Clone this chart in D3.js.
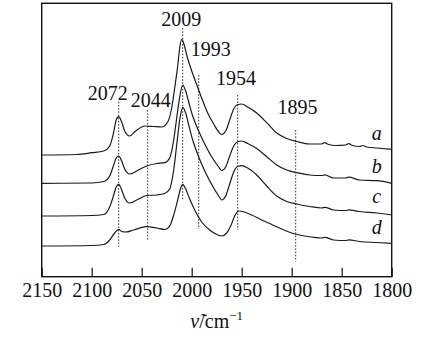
<!DOCTYPE html>
<html><head><meta charset="utf-8">
<script src="https://cdn.jsdelivr.net/npm/d3@7"></script>
<style>body{margin:0;background:#fff}svg{display:block}</style>
</head><body><svg id="c" width="443" height="349"></svg>
<script>
const xTicks = [2150, 2100, 2050, 2000, 1950, 1900, 1850, 1800];
const seriesNames = ["a", "b", "c", "d"];
const seriesA = [[2150,1.217],[2115,1.222],[2100,1.24],[2088,1.257],[2082,1.307],[2078,1.447],[2075.5,1.567],[2073,1.60],[2070,1.547],[2067,1.457],[2062,1.407],[2056,1.457],[2047,1.507],[2038,1.502],[2030,1.497],[2024,1.547],[2020,1.687],[2017,1.887],[2014,2.107],[2012,2.287],[2010,2.374],[2007.5,2.317],[2005,2.217],[2001,2.087],[1996,1.947],[1990,1.787],[1984,1.637],[1978,1.527],[1973,1.447],[1970,1.422],[1966,1.457],[1962,1.567],[1958,1.677],[1954,1.722],[1950,1.727],[1944,1.697],[1935,1.637],[1925,1.54],[1915,1.437],[1905,1.382],[1895,1.352],[1882,1.327],[1870,1.327],[1867,1.34],[1863,1.322],[1856,1.312],[1846,1.317],[1843,1.33],[1839,1.312],[1832,1.302],[1829,1.312],[1825,1.297],[1815,1.287],[1800,1.274]];
const seriesB = [[2150,0.934],[2100,0.937],[2088,0.952],[2082,1.007],[2078,1.117],[2075.5,1.187],[2073,1.207],[2070,1.157],[2067,1.077],[2062,1.027],[2055,1.057],[2045,1.107],[2035,1.132],[2027,1.14],[2022,1.187],[2018,1.367],[2015,1.587],[2012,1.797],[2009,1.917],[2006,1.857],[2003,1.747],[1999,1.607],[1993,1.457],[1986,1.307],[1978,1.167],[1973,1.097],[1970,1.062],[1966,1.097],[1962,1.207],[1958,1.307],[1954,1.35],[1950,1.357],[1944,1.332],[1935,1.282],[1925,1.20],[1915,1.117],[1905,1.067],[1895,1.04],[1882,1.017],[1870,1.012],[1867,1.018],[1858,0.987],[1846,0.987],[1843,0.995],[1832,0.967],[1815,0.96],[1800,0.934]];
const seriesC = [[2150,0.607],[2100,0.612],[2088,0.622],[2082,0.697],[2078,0.817],[2075.5,0.897],[2073,0.924],[2070,0.867],[2067,0.787],[2062,0.737],[2055,0.767],[2045,0.812],[2035,0.817],[2027,0.832],[2022,0.877],[2018,1.067],[2015,1.317],[2012,1.567],[2009,1.694],[2006,1.637],[2003,1.517],[1999,1.367],[1993,1.197],[1986,1.037],[1978,0.887],[1973,0.807],[1970,0.767],[1966,0.807],[1962,0.927],[1958,1.047],[1954,1.102],[1950,1.11],[1944,1.087],[1935,1.017],[1925,0.907],[1915,0.807],[1905,0.752],[1895,0.727],[1882,0.702],[1870,0.687],[1867,0.694],[1858,0.667],[1846,0.662],[1843,0.668],[1832,0.652],[1815,0.637],[1800,0.617]];
const seriesD = [[2150,0.307],[2100,0.312],[2088,0.322],[2082,0.367],[2077,0.437],[2073,0.474],[2070,0.452],[2066,0.447],[2058,0.467],[2045,0.50],[2035,0.487],[2027,0.472],[2022,0.507],[2018,0.617],[2014,0.767],[2011,0.887],[2009,0.924],[2006,0.877],[2002,0.777],[1996,0.647],[1990,0.547],[1982,0.467],[1976,0.427],[1970,0.407],[1965,0.437],[1961,0.507],[1957,0.607],[1953,0.657],[1949,0.652],[1940,0.617],[1930,0.567],[1920,0.522],[1910,0.477],[1900,0.437],[1890,0.412],[1880,0.397],[1870,0.387],[1867,0.394],[1858,0.367],[1846,0.362],[1843,0.368],[1832,0.352],[1815,0.342],[1800,0.334]];
const peakLabels = ["2072", "2044", "2009", "1993", "1954", "1895"];
const peakLinePos = [2073, 2044, 2009, 1993, 1954, 1896];
const peakLineTop = [1.75, 1.667, 2.487, 2.017, 1.817, 1.467];
const peakLineBottom = [0.30, 0.367, 0.767, 0.477, 0.467, 0.15];
const peakLabelPos = [2083.9, 2040.9, 2010.4, 1980.9, 1955.7, 1894.2];
const peakLabelBase = [1.767, 1.70, 2.507, 2.207, 1.917, 1.624];
const seriesLabelPos = [1815, 1815, 1815, 1815];
const seriesLabelBase = [1.37, 1.034, 0.74, 0.427];

const FONT = "'Liberation Serif'";
const svg = d3.select("#c");
const L = 41.7, R = 391.7, T = 3.3, B = 276.7;
const x = d3.scaleLinear().domain([2150, 1800]).range([L, R]);
const y = d3.scaleLinear().domain([0, 2.734]).range([B, T]);

const axis = d3.axisBottom(x).tickValues(xTicks).tickSize(-9).tickPadding(6).tickFormat(d3.format("d"));
const gx = svg.append("g").attr("transform", `translate(0,${B})`).call(axis);
gx.select(".domain").remove();
gx.selectAll(".tick line").attr("stroke", "#111").attr("stroke-width", 1.2);
gx.selectAll(".tick text").style("font-family", FONT).style("font-size", "20px").attr("fill", "#111");

svg.append("rect").attr("x", L).attr("y", T).attr("width", R - L).attr("height", B - T)
  .attr("fill", "none").attr("stroke", "#111").attr("stroke-width", 1.4);

peakLinePos.forEach((p, i) => {
  svg.append("line").attr("x1", x(p)).attr("x2", x(p))
    .attr("y1", y(peakLineTop[i])).attr("y2", y(peakLineBottom[i]))
    .attr("stroke", "#333").attr("stroke-width", 1).attr("stroke-dasharray", "1.6,1.6");
});

const line = d3.line().x(d => x(d[0])).y(d => y(d[1])).curve(d3.curveMonotoneX);
[seriesA, seriesB, seriesC, seriesD].forEach(s => {
  svg.append("path").datum(s).attr("d", line).attr("fill", "none")
    .attr("stroke", "#1a1a1a").attr("stroke-width", 1.2);
});

peakLabels.forEach((t, i) => {
  svg.append("text").attr("x", x(peakLabelPos[i])).attr("y", y(peakLabelBase[i]))
    .attr("text-anchor", "middle").style("font-family", FONT).style("font-size", "20px").attr("fill", "#111").text(t);
});
seriesNames.forEach((t, i) => {
  svg.append("text").attr("x", x(seriesLabelPos[i])).attr("y", y(seriesLabelBase[i]))
    .attr("text-anchor", "middle").style("font-family", FONT).style("font-size", "20px")
    .style("font-style", "italic").attr("fill", "#111").text(t);
});

const title = svg.append("text").attr("x", (L + R) / 2).attr("y", 328).attr("text-anchor", "middle")
  .style("font-family", FONT).style("font-size", "20px").attr("fill", "#111");
title.append("tspan").style("font-style", "italic").text("\u03BD\u0303");
title.append("tspan").text("/cm");
title.append("tspan").style("font-size", "13px").attr("dy", -8).text("\u22121");
</script></body></html>
